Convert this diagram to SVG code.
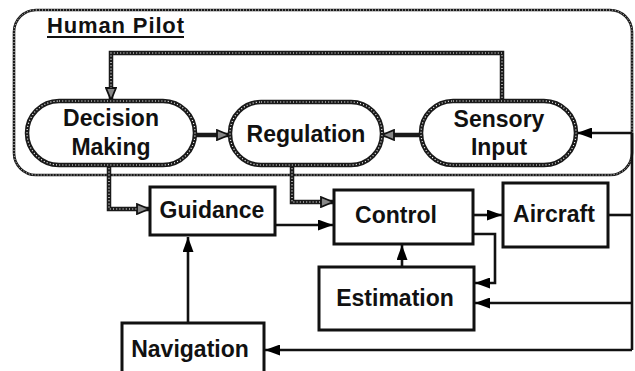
<svg xmlns="http://www.w3.org/2000/svg" width="635" height="371" viewBox="0 0 635 371">
<defs>
<marker id="solid" markerUnits="userSpaceOnUse" markerWidth="15" markerHeight="11" refX="15" refY="5.5" orient="auto">
<path d="M0,0 L15,5.5 L0,11 z" fill="#000"/>
</marker>
<marker id="hatch" markerUnits="userSpaceOnUse" markerWidth="14" markerHeight="12" refX="13" refY="6" orient="auto">
<path d="M1,1 L13,6 L1,11 z" fill="#888" stroke="#111" stroke-width="1.8"/>
</marker>
</defs>
<style>
.t{font-family:"Liberation Sans",Arial,sans-serif;font-weight:bold;font-size:23px;fill:#111;text-anchor:middle}
.hb{fill:none;stroke:#1a1a1a;stroke-width:4.5}
.hw{fill:none;stroke:#fff;stroke-width:1.2;stroke-dasharray:1 2.2}
.bnd{fill:none;stroke:#1a1a1a;stroke-width:2.6}
.bndw{fill:none;stroke:#fff;stroke-width:0.9;stroke-dasharray:1 2}
.box{fill:#fff;stroke:#111;stroke-width:3}
.c{fill:none;stroke:#111;stroke-width:2.6}
</style>

<g id="human-pilot">
<rect x="14" y="10" width="618" height="165" rx="22" class="bnd"/>
<rect x="14" y="10" width="618" height="165" rx="22" class="bndw"/>
<text x="47" y="33" class="t" style="text-anchor:start;font-size:22px" textLength="137">Human Pilot</text>
<line x1="47" y1="37" x2="184" y2="37" stroke="#111" stroke-width="2"/>
</g>

<g id="connectors">
<g>
<path d="M502,101 V53 H111 V100" class="hb" marker-end="url(#hatch)"/>
<path d="M502,101 V53 H111 V88" class="hw"/>
<path d="M195,135 H229" class="hb" marker-end="url(#hatch)"/>
<path d="M421,135 H382" class="hb" marker-end="url(#hatch)"/>
<path d="M109,165 V209 H149" class="hb" marker-end="url(#hatch)"/>
<path d="M109,165 V209 H137" class="hw"/>
<path d="M292,165 V202 H333" class="hb" marker-end="url(#hatch)"/>
<path d="M292,165 V202 H321" class="hw"/>
</g>
<path d="M275,225 H333" class="c" marker-end="url(#solid)"/>
<path d="M473,215 H502" class="c" marker-end="url(#solid)"/>
<path d="M473,234 H495 V283 H475" class="c" marker-end="url(#solid)"/>
<path d="M402,267 V245" class="c" marker-end="url(#solid)"/>
<path d="M188,323 V237" class="c" marker-end="url(#solid)"/>
<path d="M608,215 H632" class="c"/>
<path d="M632,133 V350" class="c"/>
<path d="M632,133 H577" class="c" marker-end="url(#solid)"/>
<path d="M632,303 H475" class="c" marker-end="url(#solid)"/>
<path d="M632,350 H265" class="c" marker-end="url(#solid)"/>
</g>

<g id="decision-making">
<rect x="27" y="101" width="168" height="64" rx="32" fill="#fff" class="hb"/>
<rect x="27" y="101" width="168" height="64" rx="32" class="hw"/>
<text x="111" y="126" class="t">Decision</text>
<text x="111" y="155" class="t">Making</text>
</g>

<g id="regulation">
<rect x="230" y="102" width="152" height="63" rx="31" fill="#fff" class="hb"/>
<rect x="230" y="102" width="152" height="63" rx="31" class="hw"/>
<text x="306" y="142" class="t">Regulation</text>
</g>

<g id="sensory-input">
<rect x="421" y="101" width="155" height="64" rx="32" fill="#fff" class="hb"/>
<rect x="421" y="101" width="155" height="64" rx="32" class="hw"/>
<text x="499" y="127" class="t">Sensory</text>
<text x="499" y="155" class="t">Input</text>
</g>

<g id="guidance">
<rect x="150" y="187" width="125" height="48" class="box"/>
<text x="212" y="218" class="t">Guidance</text>
</g>

<g id="control">
<rect x="334" y="190" width="139" height="54" class="box"/>
<text x="396" y="223" class="t">Control</text>
</g>

<g id="aircraft">
<rect x="503" y="183" width="105" height="64" class="box"/>
<text x="554" y="222" class="t">Aircraft</text>
</g>

<g id="estimation">
<rect x="319" y="267" width="155" height="63" class="box"/>
<text x="395" y="306" class="t">Estimation</text>
</g>

<g id="navigation">
<rect x="122" y="323" width="142" height="60" class="box"/>
<text x="190" y="357" class="t">Navigation</text>
</g>
</svg>
